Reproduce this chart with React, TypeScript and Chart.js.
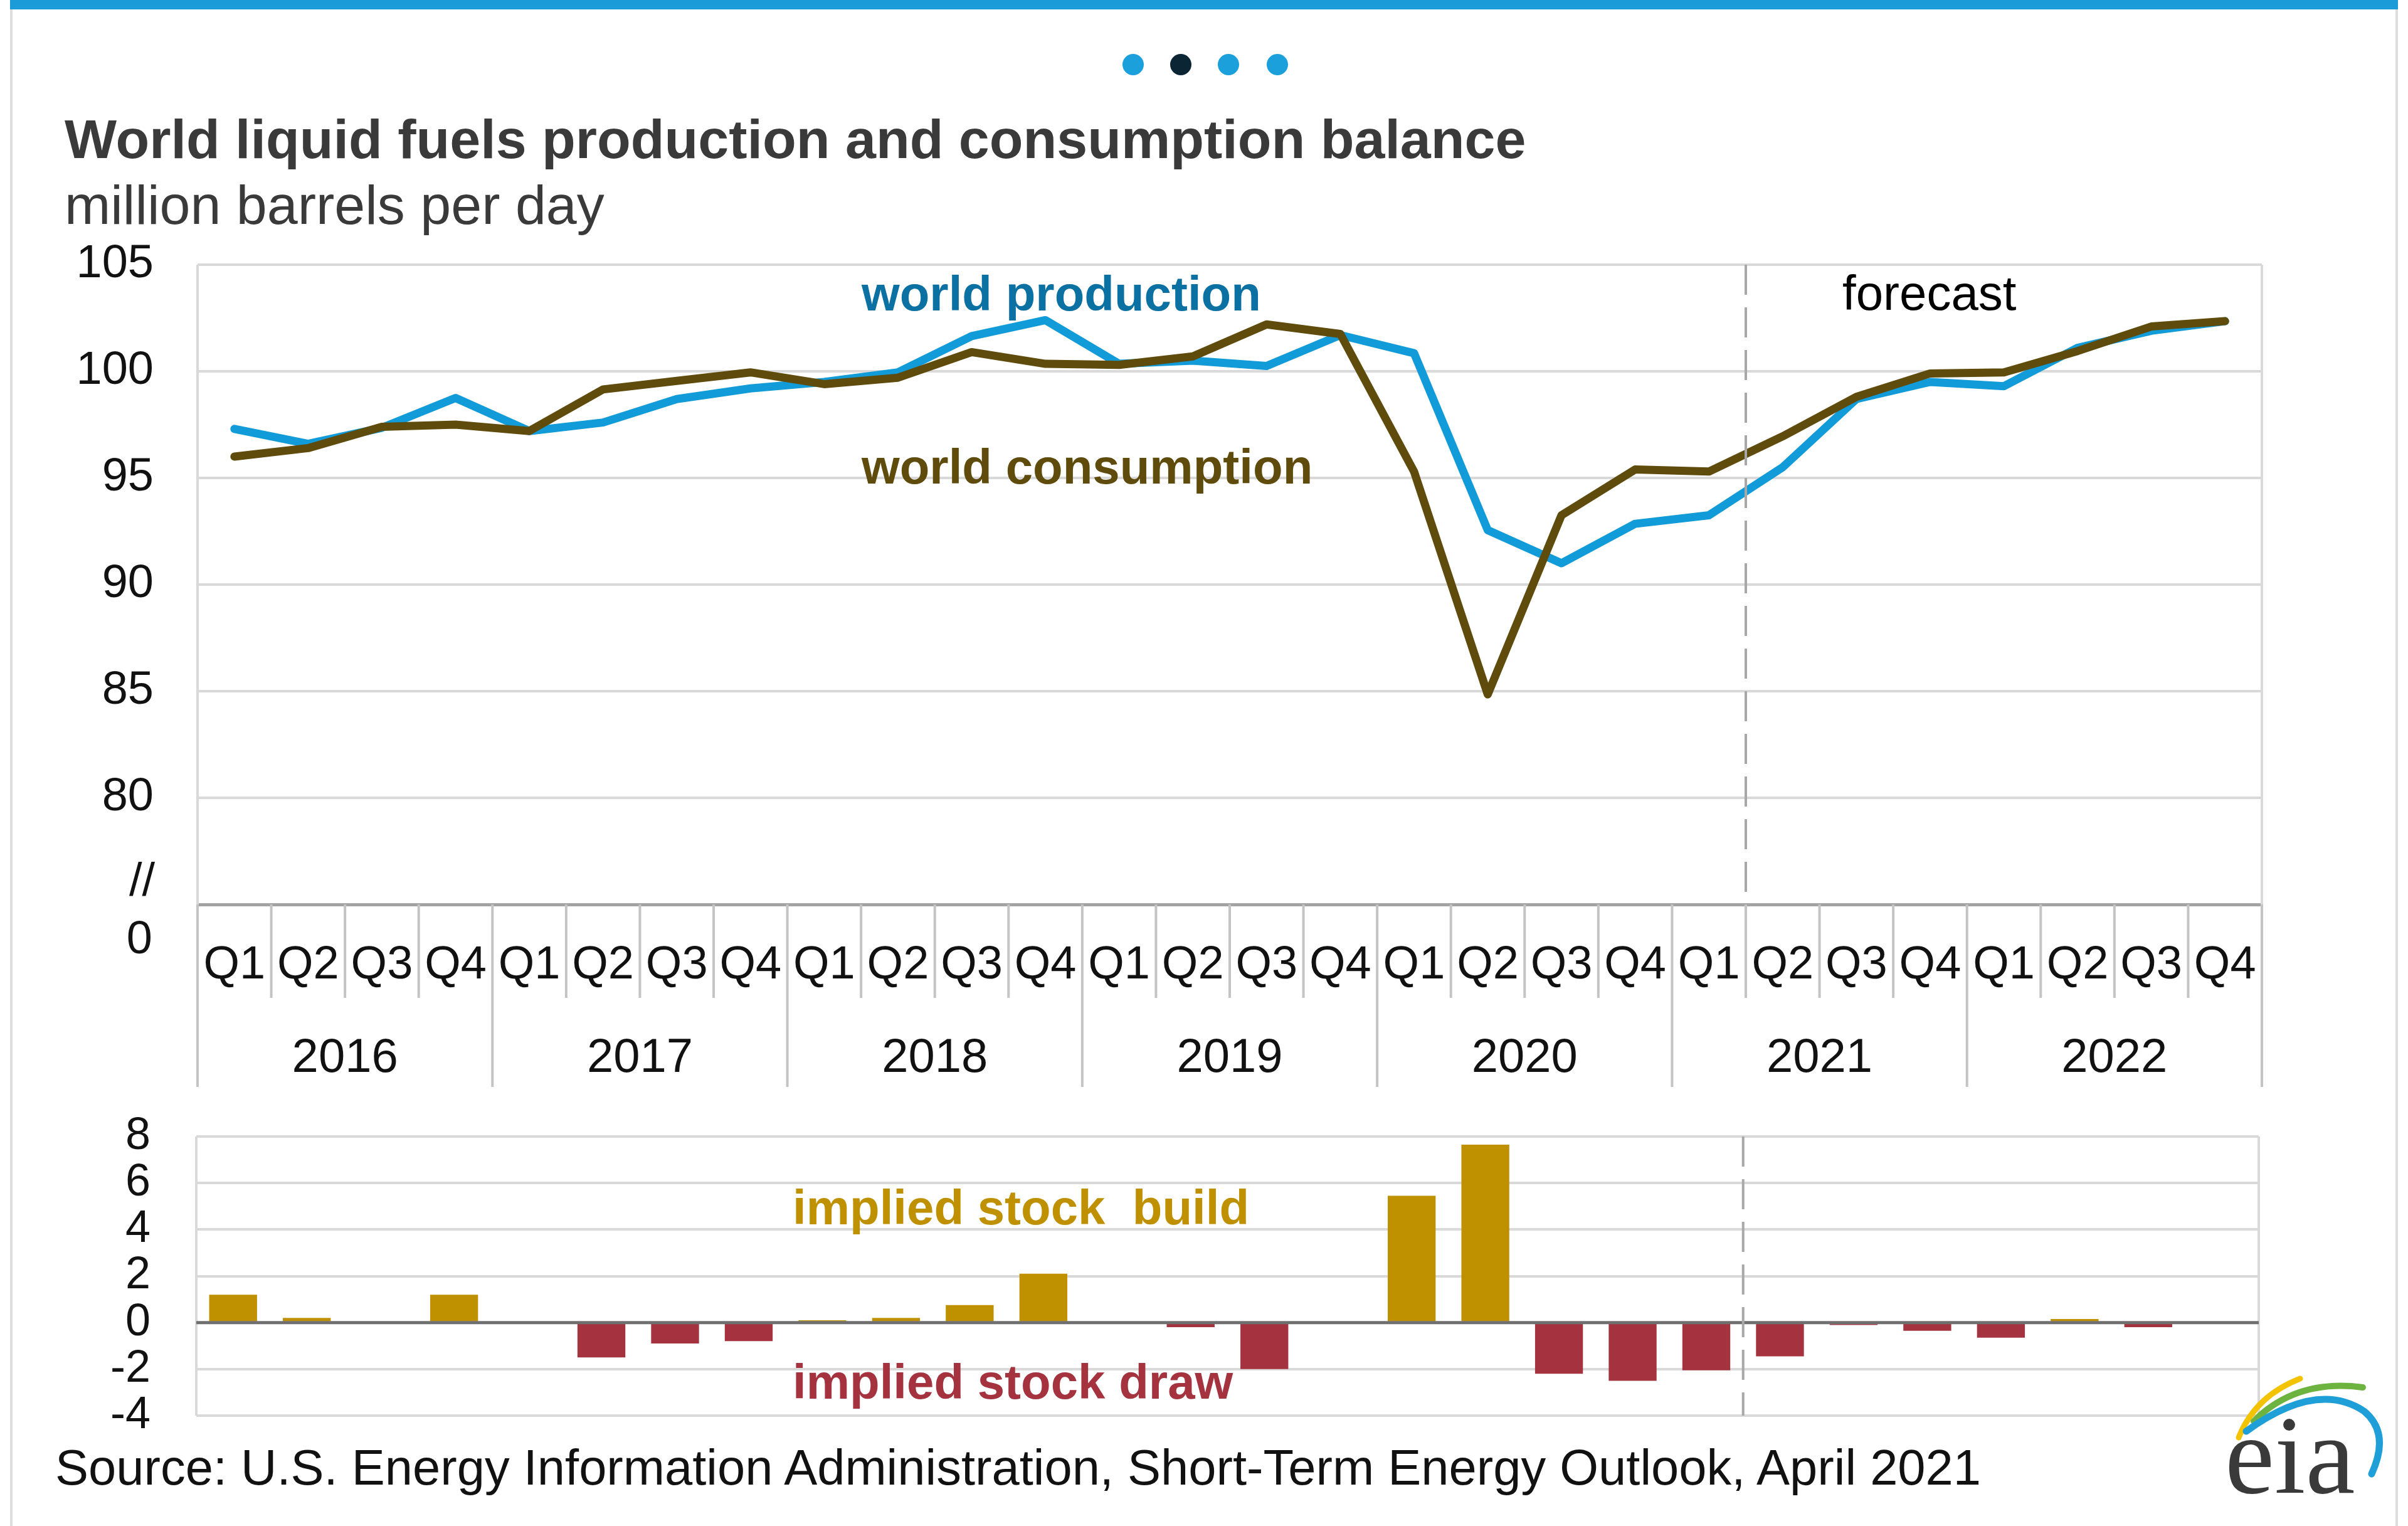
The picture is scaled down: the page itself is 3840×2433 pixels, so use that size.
import React, { useEffect, useRef } from 'react';
import { Chart, registerables } from 'chart.js';

Chart.register(...registerables);

const FONT = '"Liberation Sans", Arial, Helvetica, sans-serif';

// ---- data ----
const years = ['2016', '2017', '2018', '2019', '2020', '2021', '2022'];
const quarterNames = ['Q1', 'Q2', 'Q3', 'Q4'];
const categories = years.flatMap((y) => quarterNames.map((q) => `${y} ${q}`));

const worldProduction = [
  97.3, 96.6, 97.35, 98.75, 97.2, 97.6, 98.7, 99.2,
  99.5, 99.95, 101.65, 102.4, 100.35, 100.5, 100.25, 101.7,
  100.85, 92.55, 91.0, 92.85, 93.25, 95.5, 98.7, 99.5,
  99.3, 101.1, 101.9, 102.35,
];
const worldConsumption = [
  96.0, 96.4, 97.4, 97.5, 97.2, 99.15, 99.55, 99.95,
  99.4, 99.7, 100.9, 100.35, 100.3, 100.7, 102.2, 101.75,
  95.3, 84.85, 93.25, 95.4, 95.3, 96.95, 98.8, 99.9,
  99.95, 100.95, 102.1, 102.35,
];
const impliedStockChange = [
  1.2, 0.2, -0.05, 1.2, 0.0, -1.5, -0.9, -0.8,
  0.1, 0.2, 0.75, 2.1, 0.0, -0.2, -2.0, 0.0,
  5.45, 7.65, -2.2, -2.5, -2.05, -1.45, -0.1, -0.35,
  -0.65, 0.15, -0.2, 0.0,
];
const topAxisMin = 75;
const topAxisMax = 105;
const topAxisStep = 5;
const bottomAxisMin = -4;
const bottomAxisMax = 8;
const bottomAxisStep = 2;
const forecastStartIndex = 21; // 2021 Q2

// ---- colors ----
const PROD_COLOR = '#119bd8';
const CONS_COLOR = '#5f4b0b';
const BUILD_COLOR = '#bf9000';
const DRAW_COLOR = '#a5323f';
const GRID = '#d9d9d9';

const TOP_CANVAS_H = 1770;
const BOTTOM_CANVAS_TOP = 1690;
const BOTTOM_CANVAS_H = 2433 - BOTTOM_CANVAS_TOP;

const topDecor = {
  id: 'topDecor',
  afterDatasetsDraw(chart: any) {
    const { ctx, chartArea: a, scales } = chart;
    const x = scales.x;
    const n = categories.length;
    const w = (a.right - a.left) / n;
    ctx.save();
    // plot borders
    ctx.strokeStyle = GRID;
    ctx.lineWidth = 4;
    ctx.beginPath();
    ctx.moveTo(a.left, a.top);
    ctx.lineTo(a.left, a.bottom);
    ctx.moveTo(a.right, a.top);
    ctx.lineTo(a.right, a.bottom);
    ctx.stroke();
    // forecast divider
    const fx = a.left + forecastStartIndex * w;
    ctx.strokeStyle = '#a8a8a8';
    ctx.setLineDash([48, 20]);
    ctx.beginPath();
    ctx.moveTo(fx, a.top);
    ctx.lineTo(fx, a.bottom);
    ctx.stroke();
    ctx.setLineDash([]);
    // category separators
    ctx.strokeStyle = '#c4c4c4';
    ctx.lineWidth = 4;
    for (let k = 0; k <= n; k++) {
      const xk = a.left + k * w;
      const len = k % 4 === 0 ? 291 : 149;
      ctx.beginPath();
      ctx.moveTo(xk, a.bottom);
      ctx.lineTo(xk, a.bottom + len);
      ctx.stroke();
    }
    // quarter labels
    ctx.fillStyle = '#111';
    ctx.textAlign = 'center';
    ctx.textBaseline = 'alphabetic';
    ctx.font = `74px ${FONT}`;
    for (let i = 0; i < n; i++) {
      ctx.fillText(quarterNames[i % 4], x.getPixelForValue(i), a.bottom + 118);
    }
    // year labels
    ctx.font = `76px ${FONT}`;
    years.forEach((yr, g) => {
      const cx = (x.getPixelForValue(g * 4) + x.getPixelForValue(g * 4 + 3)) / 2;
      ctx.fillText(yr, cx, a.bottom + 267);
    });
    // axis break marks
    ctx.textAlign = 'right';
    ctx.textBaseline = 'middle';
    ctx.font = `74px ${FONT}`;
    ctx.fillText('//', a.left - 68, a.bottom - 34);
    ctx.fillText('0', a.left - 72, a.bottom + 58);
    // annotations
    ctx.textAlign = 'left';
    ctx.textBaseline = 'alphabetic';
    ctx.font = `bold 78px ${FONT}`;
    ctx.fillStyle = '#0b70a2';
    ctx.fillText('world production', 1374, 495);
    ctx.fillStyle = CONS_COLOR;
    ctx.fillText('world consumption', 1374, 771);
    ctx.font = `78px ${FONT}`;
    ctx.fillStyle = '#000';
    ctx.fillText('forecast', 2938, 494);
    ctx.restore();
  },
};

const bottomDecor = {
  id: 'bottomDecor',
  afterDatasetsDraw(chart: any) {
    const { ctx, chartArea: a, scales } = chart;
    const y = scales.y;
    const n = categories.length;
    const w = (a.right - a.left) / n;
    ctx.save();
    ctx.strokeStyle = GRID;
    ctx.lineWidth = 4;
    ctx.beginPath();
    ctx.moveTo(a.left, a.top);
    ctx.lineTo(a.left, a.bottom);
    ctx.moveTo(a.right, a.top);
    ctx.lineTo(a.right, a.bottom);
    ctx.stroke();
    // zero line
    const y0 = y.getPixelForValue(0);
    ctx.strokeStyle = '#6f6f6f';
    ctx.lineWidth = 5;
    ctx.beginPath();
    ctx.moveTo(a.left, y0);
    ctx.lineTo(a.right, y0);
    ctx.stroke();
    // forecast divider
    const fx = a.left + forecastStartIndex * w;
    ctx.strokeStyle = '#a8a8a8';
    ctx.lineWidth = 4;
    ctx.setLineDash([48, 20]);
    ctx.beginPath();
    ctx.moveTo(fx, a.top);
    ctx.lineTo(fx, a.bottom);
    ctx.stroke();
    ctx.setLineDash([]);
    // annotations
    ctx.textAlign = 'left';
    ctx.textBaseline = 'alphabetic';
    ctx.font = `bold 78px ${FONT}`;
    ctx.fillStyle = BUILD_COLOR;
    ctx.fillText('implied stock  build', 1264, 1952 - BOTTOM_CANVAS_TOP);
    ctx.fillStyle = DRAW_COLOR;
    ctx.fillText('implied stock draw', 1264, 2230 - BOTTOM_CANVAS_TOP);
    ctx.restore();
  },
};

export default function App() {
  const topRef = useRef<HTMLCanvasElement>(null);
  const bottomRef = useRef<HTMLCanvasElement>(null);

  useEffect(() => {
    document.body.style.margin = '0';
    const top = new Chart(topRef.current as HTMLCanvasElement, {
      type: 'line',
      data: {
        labels: categories,
        datasets: [
          {
            label: 'world production',
            data: worldProduction,
            borderColor: PROD_COLOR,
            borderWidth: 13,
            pointRadius: 0,
            borderCapStyle: 'round',
            borderJoinStyle: 'round',
            tension: 0,
            fill: false,
            order: 2,
          },
          {
            label: 'world consumption',
            data: worldConsumption,
            borderColor: CONS_COLOR,
            borderWidth: 13,
            pointRadius: 0,
            borderCapStyle: 'round',
            borderJoinStyle: 'round',
            tension: 0,
            fill: false,
            order: 1,
          },
        ],
      },
      options: {
        animation: false,
        responsive: false,
        maintainAspectRatio: false,
        devicePixelRatio: 1,
        layout: { padding: { top: 422, bottom: TOP_CANVAS_H - 1442, left: 0, right: 3840 - 3607 } },
        plugins: { legend: { display: false }, tooltip: { enabled: false }, title: { display: false } },
        scales: {
          x: { type: 'category', display: false, offset: true },
          y: {
            min: topAxisMin,
            max: topAxisMax,
            afterFit: (s: any) => {
              s.width = 315;
            },
            ticks: {
              stepSize: topAxisStep,
              autoSkip: false,
              padding: 70,
              color: '#111',
              font: { size: 74, family: FONT },
              callback: (v: any) => (Number(v) === topAxisMin ? '' : String(v)),
            },
            grid: {
              drawTicks: false,
              color: (c: any) => (c.tick && c.tick.value === topAxisMin ? '#a3a3a3' : GRID),
              lineWidth: (c: any) => (c.tick && c.tick.value === topAxisMin ? 5 : 4),
            },
            border: { display: false },
          },
        },
      },
      plugins: [topDecor],
    } as any);

    const bottom = new Chart(bottomRef.current as HTMLCanvasElement, {
      type: 'bar',
      data: {
        labels: categories,
        datasets: [
          {
            label: 'implied stock change',
            data: impliedStockChange,
            backgroundColor: (c: any) => (c.raw >= 0 ? BUILD_COLOR : DRAW_COLOR),
            borderWidth: 0,
            barPercentage: 0.65,
            categoryPercentage: 1,
          },
        ],
      },
      options: {
        animation: false,
        responsive: false,
        maintainAspectRatio: false,
        devicePixelRatio: 1,
        layout: {
          padding: { top: 1812 - BOTTOM_CANVAS_TOP, bottom: BOTTOM_CANVAS_TOP + BOTTOM_CANVAS_H - 2257, left: 0, right: 3840 - 3602 },
        },
        plugins: { legend: { display: false }, tooltip: { enabled: false }, title: { display: false } },
        scales: {
          x: { type: 'category', display: false, offset: true },
          y: {
            min: bottomAxisMin,
            max: bottomAxisMax,
            afterFit: (s: any) => {
              s.width = 313;
            },
            ticks: {
              stepSize: bottomAxisStep,
              autoSkip: false,
              padding: 73,
              color: '#111',
              font: { size: 72, family: FONT },
            },
            grid: {
              drawTicks: false,
              color: (c: any) => (c.tick && c.tick.value === 0 ? 'rgba(0,0,0,0)' : GRID),
              lineWidth: 4,
            },
            border: { display: false },
          },
        },
      },
      plugins: [bottomDecor],
    } as any);

    return () => {
      top.destroy();
      bottom.destroy();
    };
  }, []);

  const dot = (cx: number, color: string) => (
    <div
      key={cx}
      style={{
        position: 'absolute',
        left: cx - 17,
        top: 103 - 17,
        width: 34,
        height: 34,
        borderRadius: '50%',
        background: color,
      }}
    />
  );

  return (
    <div
      style={{
        position: 'absolute',
        left: 0,
        top: 0,
        width: 3840,
        height: 2433,
        background: '#fff',
        overflow: 'hidden',
        fontFamily: FONT,
      }}
    >
      <div style={{ position: 'absolute', left: 16, top: 0, width: 4, height: 2433, background: '#dedede' }} />
      <div style={{ position: 'absolute', left: 3820, top: 0, width: 4, height: 2433, background: '#dedede' }} />
      <div style={{ position: 'absolute', left: 16, top: 0, width: 3808, height: 15, background: '#1b9bd8' }} />
      {dot(1807, '#1ba0dc')}
      {dot(1883, '#0b2535')}
      {dot(1959, '#1ba0dc')}
      {dot(2037, '#1ba0dc')}
      <canvas
        ref={topRef}
        width={3840}
        height={TOP_CANVAS_H}
        style={{ position: 'absolute', left: 0, top: 0, width: 3840, height: TOP_CANVAS_H }}
      />
      <canvas
        ref={bottomRef}
        width={3840}
        height={BOTTOM_CANVAS_H}
        style={{ position: 'absolute', left: 0, top: BOTTOM_CANVAS_TOP, width: 3840, height: BOTTOM_CANVAS_H }}
      />
      <div
        style={{
          position: 'absolute',
          left: 103,
          top: 178,
          fontSize: 88,
          lineHeight: '88px',
          fontWeight: 'bold',
          color: '#3a3a3a',
          whiteSpace: 'nowrap',
        }}
      >
        World liquid fuels production and consumption balance
      </div>
      <div
        style={{
          position: 'absolute',
          left: 103,
          top: 283,
          fontSize: 88,
          lineHeight: '88px',
          color: '#3a3a3a',
          whiteSpace: 'nowrap',
        }}
      >
        million barrels per day
      </div>
      <div
        style={{
          position: 'absolute',
          left: 88,
          top: 2300,
          fontSize: 79.5,
          lineHeight: '79.5px',
          color: '#111',
          whiteSpace: 'nowrap',
        }}
      >
        Source: U.S. Energy Information Administration, Short-Term Energy Outlook, April 2021
      </div>
      <svg
        width={3840}
        height={2433}
        viewBox="0 0 3840 2433"
        style={{ position: 'absolute', left: 0, top: 0, pointerEvents: 'none' }}
      >
        <path d="M 3570 2292 Q 3596 2226 3668 2198" stroke="#f3c300" strokeWidth={9} fill="none" strokeLinecap="round" />
        <path d="M 3594 2266 Q 3662 2198 3768 2212" stroke="#6db33f" strokeWidth={10} fill="none" strokeLinecap="round" />
        <path
          d="M 3582 2282 Q 3695 2200 3770 2250 Q 3812 2285 3782 2350"
          stroke="#1e9fd8"
          strokeWidth={11}
          fill="none"
          strokeLinecap="round"
        />
        <text x={3548} y={2380} fontFamily='"Liberation Serif", "Times New Roman", serif' fontSize={178} fill="#3a3a3a">
          eia
        </text>
      </svg>
    </div>
  );
}
